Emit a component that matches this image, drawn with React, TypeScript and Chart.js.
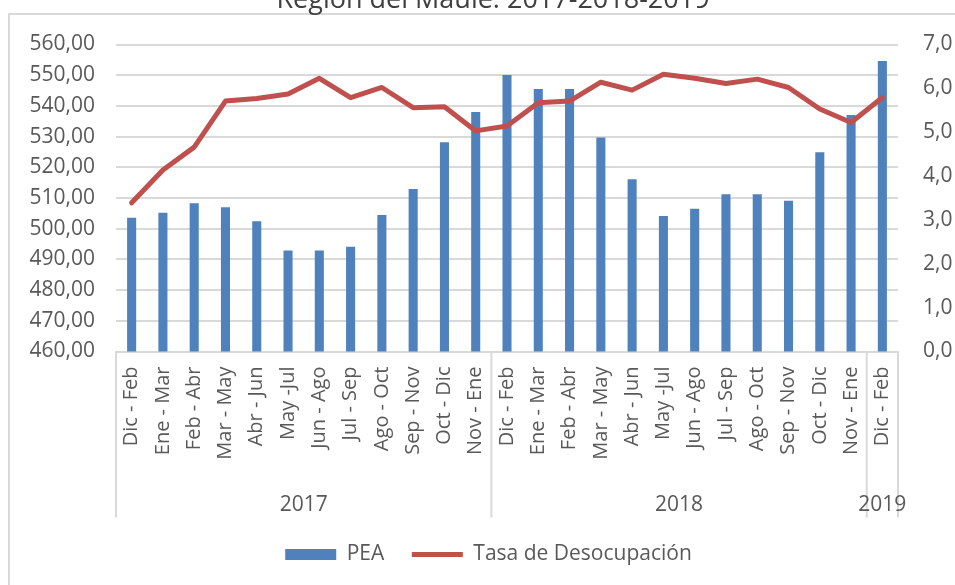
import React, { useEffect, useRef } from 'react';
import { Chart, registerables } from 'chart.js';

Chart.register(...registerables);

const titleText = 'Región del Maule: 2017-2018-2019';

const categories = [
  'Dic - Feb', 'Ene - Mar', 'Feb - Abr', 'Mar - May', 'Abr - Jun', 'May -Jul',
  'Jun - Ago', 'Jul - Sep', 'Ago - Oct', 'Sep - Nov', 'Oct - Dic', 'Nov - Ene',
  'Dic - Feb', 'Ene - Mar', 'Feb - Abr', 'Mar - May', 'Abr - Jun', 'May -Jul',
  'Jun - Ago', 'Jul - Sep', 'Ago - Oct', 'Sep - Nov', 'Oct - Dic', 'Nov - Ene',
  'Dic - Feb',
];

const years = ['2017', '2018', '2019'];
const yearSpans = [12, 12, 1];

const peaValues = [
  503.6, 505.2, 508.3, 507.0, 502.4, 492.9, 492.9, 494.1, 504.5, 512.9, 528.2, 538.0,
  550.1, 545.5, 545.5, 529.7, 516.1, 504.1, 506.5, 511.2, 511.2, 509.1, 524.9, 537.0,
  554.6,
];

const tasaValues = [
  3.39, 4.14, 4.66, 5.71, 5.77, 5.87, 6.23, 5.79, 6.02, 5.56, 5.58, 5.03,
  5.14, 5.67, 5.71, 6.14, 5.96, 6.32, 6.23, 6.11, 6.21, 6.02, 5.53, 5.22,
  5.79,
];

const FONT = "'Open Sans', 'Liberation Sans', sans-serif";
const TEXT_COLOR = '#595959';
const GRID_COLOR = '#d9d9d9';

const frameTitlePlugin = {
  id: 'frameTitle',
  beforeDraw(chart: any) {
    const ctx = chart.ctx;
    ctx.save();
    ctx.strokeStyle = GRID_COLOR;
    ctx.lineWidth = 2;
    ctx.strokeRect(9, 14, 2000, 2000);
    ctx.restore();
  },
  afterDraw(chart: any) {
    const ctx = chart.ctx;
    ctx.save();
    ctx.fillStyle = '#404040';
    ctx.font = `27px ${FONT}`;
    ctx.textAlign = 'center';
    ctx.textBaseline = 'alphabetic';
    ctx.fillText(titleText, 493, 8);
    ctx.restore();
  },
};

const yearGroupPlugin = {
  id: 'yearGroups',
  afterDraw(chart: any) {
    const ctx = chart.ctx;
    const x = chart.scales.x;
    const area = chart.chartArea;
    const n = categories.length;
    const top = area.bottom;
    const lineBottom = area.bottom + 166;
    const textY = area.bottom + 159;
    const boundary = (i: number) => {
      if (i <= 0) return area.left;
      if (i >= n) return area.right;
      return (x.getPixelForTick(i - 1) + x.getPixelForTick(i)) / 2;
    };
    ctx.save();
    ctx.strokeStyle = GRID_COLOR;
    ctx.lineWidth = 2;
    ctx.fillStyle = TEXT_COLOR;
    ctx.font = `21px ${FONT}`;
    ctx.textAlign = 'center';
    ctx.textBaseline = 'alphabetic';
    let start = 0;
    const drawn = new Set<number>();
    years.forEach((yr, gi) => {
      const end = start + yearSpans[gi];
      const l = boundary(start);
      const r = boundary(end);
      [l, r].forEach((px) => {
        const key = Math.round(px);
        if (drawn.has(key)) return;
        drawn.add(key);
        ctx.beginPath();
        ctx.moveTo(px, top);
        ctx.lineTo(px, lineBottom);
        ctx.stroke();
      });
      ctx.fillText(yr, (l + r) / 2, textY);
      start = end;
    });
    ctx.restore();
  },
};

export default function App() {
  const canvasRef = useRef<HTMLCanvasElement | null>(null);

  useEffect(() => {
    if (!canvasRef.current) return;
    const chart = new Chart(canvasRef.current, {
      type: 'bar',
      data: {
        labels: categories,
        datasets: [
          {
            type: 'bar',
            label: 'PEA',
            data: peaValues,
            backgroundColor: '#4f81bd',
            borderWidth: 0,
            barPercentage: 0.29,
            categoryPercentage: 1,
            yAxisID: 'y',
            order: 1,
            pointStyle: 'rect',
          } as any,
          {
            type: 'line',
            label: 'Tasa de Desocupación',
            data: tasaValues,
            borderColor: '#c0504d',
            backgroundColor: '#c0504d',
            borderWidth: 5,
            tension: 0,
            pointRadius: 0,
            pointHoverRadius: 0,
            pointStyle: 'line',
            borderCapStyle: 'round',
            borderJoinStyle: 'round',
            yAxisID: 'y1',
            order: 0,
          } as any,
        ],
      },
      options: {
        responsive: false,
        animation: false,
        devicePixelRatio: 1,
        layout: { padding: { top: 44.5, bottom: 10, left: 22, right: 0 } },
        plugins: {
          title: { display: false },
          tooltip: { enabled: false },
          legend: {
            position: 'bottom',
            labels: {
              usePointStyle: true,
              pointStyleWidth: 51,
              boxHeight: 11,
              padding: 27.5,
              color: TEXT_COLOR,
              font: { family: FONT, size: 21 },
              sort: (a: any, b: any) => a.datasetIndex - b.datasetIndex,
            },
          },
        },
        scales: {
          x: {
            type: 'category',
            grid: { display: false, drawTicks: false },
            border: { display: true, color: GRID_COLOR, width: 2 },
            ticks: {
              autoSkip: false,
              minRotation: 90,
              maxRotation: 90,
              padding: 15,
              color: TEXT_COLOR,
              font: { family: FONT, size: 20 },
            },
            afterFit: (s: any) => {
              s.height = 165;
            },
          },
          y: {
            position: 'left',
            min: 460,
            max: 560,
            ticks: {
              stepSize: 10,
              padding: 21,
              color: TEXT_COLOR,
              font: { family: FONT, size: 21 },
              callback: (v: any) => Number(v).toFixed(2).replace('.', ','),
            },
            grid: { color: GRID_COLOR, lineWidth: 2, drawTicks: false },
            border: { display: false },
            afterFit: (s: any) => {
              s.width = 94;
            },
          },
          y1: {
            position: 'right',
            min: 0,
            max: 7,
            ticks: {
              stepSize: 1,
              padding: 25,
              color: TEXT_COLOR,
              font: { family: FONT, size: 21 },
              callback: (v: any) => Number(v).toFixed(1).replace('.', ','),
            },
            grid: { display: false, drawTicks: false },
            border: { display: false },
            afterFit: (s: any) => {
              s.width = 57;
            },
          },
        },
      } as any,
      plugins: [frameTitlePlugin, yearGroupPlugin],
    });
    return () => chart.destroy();
  }, []);

  return (
    <div style={{ position: 'absolute', left: 0, top: 0, width: 955, height: 585, background: '#fff' }}>
      <canvas ref={canvasRef} width={955} height={585} style={{ display: 'block' }} />
    </div>
  );
}
